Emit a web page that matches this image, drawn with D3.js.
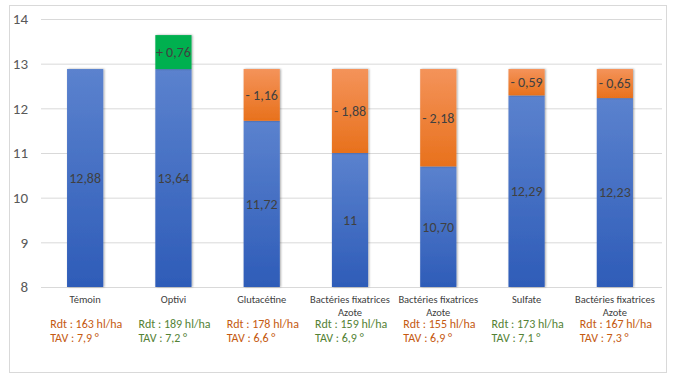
<!DOCTYPE html>
<html><head><meta charset="utf-8">
<script src="https://cdn.jsdelivr.net/npm/d3@7"></script>
<style>body{margin:0;background:#fff;font-family:Calibri,"Liberation Sans",Carlito,Arial,sans-serif;}</style>
</head><body>
<svg id="c" width="674" height="379"></svg>
<script>
const categories = ["Témoin","Optivi","Glutacétine","Bactéries fixatrices\nAzote","Bactéries fixatrices\nAzote","Sulfate","Bactéries fixatrices\nAzote"];
const baseValues = [12.88, 12.88, 11.72, 11, 10.70, 12.29, 12.23];
const deltaValues = [0, 0.76, 1.16, 1.88, 2.18, 0.59, 0.65];
const deltaSign = ["", "+", "-", "-", "-", "-", "-"];
const baseLabels = ["12,88","13,64","11,72","11","10,70","12,29","12,23"];
const deltaLabels = ["", "+ 0,76", "- 1,16", "- 1,88", "- 2,18", "- 0,59", "- 0,65"];
const rdt = ["Rdt :  163 hl/ha","Rdt :  189 hl/ha","Rdt :  178 hl/ha","Rdt :  159 hl/ha","Rdt :  155 hl/ha","Rdt :  173 hl/ha","Rdt :  167 hl/ha"];
const tav = ["TAV : 7,9 °","TAV : 7,2 °","TAV : 6,6 °","TAV : 6,9 °","TAV : 6,9 °","TAV : 7,1 °","TAV : 7,3 °"];
const rdtColor = ["orange","green","orange","green","orange","green","orange"];
const yTicks = [8,9,10,11,12,13,14];

const svg = d3.select("#c");
svg.append("rect").attr("x",9.5).attr("y",5.5).attr("width",657).attr("height",367).attr("fill","#fff").attr("stroke","#d9d9d9");

const defs = svg.append("defs");
const gb = defs.append("linearGradient").attr("id","gBlue").attr("x1",0).attr("y1",0).attr("x2",0).attr("y2",1);
gb.append("stop").attr("offset","0%").attr("stop-color","#5B82CE");
gb.append("stop").attr("offset","100%").attr("stop-color","#2E5CB8");
const go = defs.append("linearGradient").attr("id","gOrange").attr("x1",0).attr("y1",0).attr("x2",0).attr("y2",1);
go.append("stop").attr("offset","0%").attr("stop-color","#F4935A");
go.append("stop").attr("offset","100%").attr("stop-color","#E8711C");
const sh = defs.append("filter").attr("id","sh").attr("x","-20%").attr("y","-5%").attr("width","140%").attr("height","110%");
sh.append("feDropShadow").attr("dx",1).attr("dy",0).attr("stdDeviation",1.2).attr("flood-color","#000").attr("flood-opacity",0.35);

const x = d3.scaleBand().domain(d3.range(categories.length)).range([41, 659]).paddingInner(0.59).paddingOuter(0.295);
const y = d3.scaleLinear().domain([8,14]).range([287,19]);

svg.append("g").selectAll("line").data(yTicks).join("line")
  .attr("x1",41).attr("x2",662).attr("y1",d=>y(d)+0.5).attr("y2",d=>y(d)+0.5)
  .attr("stroke","#d9d9d9").attr("stroke-width",1);

const yAxis = d3.axisLeft(y).tickValues(yTicks).tickSize(0).tickPadding(0).tickFormat(d3.format("d"));
const ya = svg.append("g").attr("transform","translate(28,0)").call(yAxis);
ya.select(".domain").remove();
ya.selectAll("text").attr("font-size",15).attr("fill","#595959").attr("font-family","Calibri,'Liberation Sans',Arial,sans-serif").attr("text-anchor","end");

const g = svg.append("g");
g.selectAll("rect.b").data(baseValues).join("rect").attr("class","b")
  .attr("x",(d,i)=>x(i)).attr("width",x.bandwidth())
  .attr("y",d=>y(d)).attr("height",d=>y(8)-y(d))
  .attr("fill","url(#gBlue)").attr("filter","url(#sh)");
g.selectAll("rect.d").data(deltaValues).join("rect").attr("class","d")
  .attr("x",(d,i)=>x(i)).attr("width",x.bandwidth())
  .attr("y",(d,i)=>y(baseValues[i]+d)).attr("height",(d,i)=>y(baseValues[i])-y(baseValues[i]+d))
  .attr("fill",(d,i)=>deltaSign[i]==="+"?"#00B050":"url(#gOrange)")
  .attr("filter","url(#sh)")
  .style("display",d=>d>0?null:"none");

const lblFont = "Calibri,'Liberation Sans',Arial,sans-serif";
g.selectAll("text.bl").data(baseLabels).join("text").attr("class","bl")
  .attr("x",(d,i)=>x(i)+x.bandwidth()/2).attr("y",(d,i)=>y((8+baseValues[i])/2))
  .attr("dy","0.35em").attr("text-anchor","middle").attr("font-size",14).attr("fill","#404040")
  .attr("font-family",lblFont).text(d=>d);
g.selectAll("text.dl").data(deltaLabels).join("text").attr("class","dl")
  .attr("x",(d,i)=>x(i)+x.bandwidth()/2).attr("y",(d,i)=>y(baseValues[i]+deltaValues[i]/2))
  .attr("dy","0.35em").attr("text-anchor","middle").attr("font-size",14).attr("fill","#404040")
  .attr("font-family",lblFont).text(d=>d);

const cl = svg.append("g").selectAll("text").data(categories).join("text")
  .attr("x",(d,i)=>x(i)+x.bandwidth()/2).attr("y",303)
  .attr("text-anchor","middle").attr("font-size",10.5).attr("fill","#404040").attr("font-family",lblFont);
cl.each(function(d){
  const t = d3.select(this);
  d.split("\n").forEach((s,k)=>t.append("tspan").attr("x",t.attr("x")).attr("dy",k?12.5:0).text(s));
});

const colMap = {orange:"#C55A11", green:"#548235"};
const info = svg.append("g");
info.selectAll("text.r").data(rdt).join("text").attr("class","r")
  .attr("x",(d,i)=>x(i)+x.bandwidth()/2 - 35).attr("y",328).attr("text-anchor","start")
  .attr("font-size",12).attr("fill",(d,i)=>colMap[rdtColor[i]]).attr("font-family",lblFont).text(d=>d);
info.selectAll("text.t").data(tav).join("text").attr("class","t")
  .attr("x",(d,i)=>x(i)+x.bandwidth()/2 - 35).attr("y",342).attr("text-anchor","start")
  .attr("font-size",12).attr("fill",(d,i)=>colMap[rdtColor[i]]).attr("font-family",lblFont).text(d=>d);
</script>
</body></html>
